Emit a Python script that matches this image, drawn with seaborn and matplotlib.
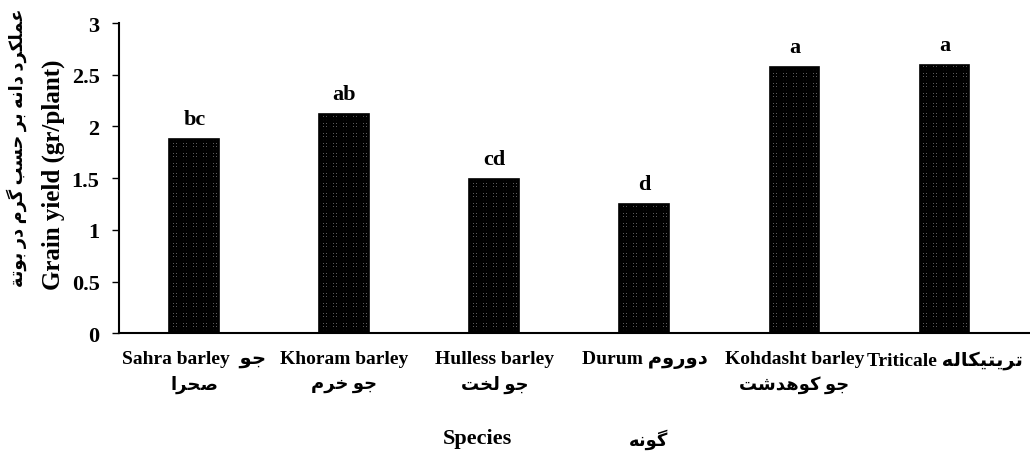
import matplotlib
matplotlib.use("Agg")
import matplotlib.pyplot as plt
import seaborn as sns
import pandas as pd

# ---------------- data ----------------
species_en = ["Sahra barley", "Khoram barley", "Hulless barley", "Durum",
              "Kohdasht barley", "Triticale"]
species_fa = ["جو صحرا", "جو خرم", "جو لخت", "دوروم", "جو کوهدشت", "تریتیکاله"]
grain_yield = [1.88, 2.12, 1.49, 1.25, 2.57, 2.59]
letters = ["bc", "ab", "cd", "d", "a", "a"]
y_ticks = [0, 0.5, 1, 1.5, 2, 2.5, 3]
y_tick_labels = ["0", "0.5", "1", "1.5", "2", "2.5", "3"]
ylabel_en = "Grain yield (gr/plant)"
ylabel_fa = "عملکرد دانه بر حسب گرم در بوتة"
xlabel_en = "Species"
xlabel_fa = "گونه"

# ------------- minimal Persian shaping (presentation forms, visual order) -------------
DUAL = {
    'ب': 'ﺏﺐﺑﺒ', 'ت': 'ﺕﺖﺗﺘ', 'ج': 'ﺝﺞﺟﺠ', 'ح': 'ﺡﺢﺣﺤ', 'خ': 'ﺥﺦﺧﺨ',
    'س': 'ﺱﺲﺳﺴ', 'ش': 'ﺵﺶﺷﺸ', 'ص': 'ﺹﺺﺻﺼ', 'ع': 'ﻉﻊﻋﻌ', 'ل': 'ﻝﻞﻟﻠ',
    'م': 'ﻡﻢﻣﻤ', 'ن': 'ﻥﻦﻧﻨ', 'ه': 'ﻩﻪﻫﻬ',
    'ک': '\uFB8E\uFB8F\uFB90\uFB91', 'گ': '\uFB92\uFB93\uFB94\uFB95',
    'ی': '\uFBFC\uFBFD\uFBFE\uFBFF',
}
RIGHT = {'ا': 'ﺍﺎ', 'د': 'ﺩﺪ', 'ر': 'ﺭﺮ', 'و': 'ﻭﻮ', 'ة': 'ﺓﺔ'}


def rtl(text):
    out = []
    for i, ch in enumerate(text):
        if ch not in DUAL and ch not in RIGHT:
            out.append(ch)
            continue
        prev = text[i - 1] if i > 0 else ""
        nxt = text[i + 1] if i + 1 < len(text) else ""
        lp = prev in DUAL
        ln = ch in DUAL and (nxt in DUAL or nxt in RIGHT)
        forms = DUAL.get(ch) or RIGHT.get(ch)
        if lp and ln:
            out.append(forms[3])
        elif lp:
            out.append(forms[1])
        elif ln:
            out.append(forms[2])
        else:
            out.append(forms[0])
    return "".join(out)[::-1]


FAM = ["Liberation Serif", "DejaVu Sans"]

# first lines of the tick labels (visual layout of the mixed-script labels)
fa_words = [s.split(" ") for s in species_fa]
line1 = [
    species_en[0] + "  " + rtl(fa_words[0][0]),
    species_en[1],
    species_en[2],
    species_en[3] + " " + rtl(species_fa[3]),
    species_en[4],
    species_en[5] + " " + rtl(species_fa[5]),
]
line2 = [rtl(fa_words[0][1]), rtl(species_fa[1]), rtl(species_fa[2]), "",
         rtl(species_fa[4]), ""]

df = pd.DataFrame({"species": species_en, "yield": grain_yield})

sns.set_theme(style="white")
plt.rcParams["font.family"] = FAM
plt.rcParams["hatch.linewidth"] = 1.9
for k in ["text.color", "axes.labelcolor", "xtick.color", "ytick.color"]:
    plt.rcParams[k] = "black"

fig = plt.figure(figsize=(10.3, 4.52), dpi=100)
ax = fig.add_axes([0.1155, 0.2604, 0.8845, 0.6865])

sns.barplot(data=df, x="species", y="yield", order=species_en, color="white",
            width=0.333, edgecolor="black", linewidth=1.2, ax=ax, errorbar=None)
for p in ax.patches:
    p.set_hatch("+++++")
    p.set_facecolor("white")
    p.set_edgecolor("black")

for i, (v, lab) in enumerate(zip(grain_yield, letters)):
    ax.annotate(lab, (i, v), xytext=(0, 11), textcoords="offset points",
                ha="center", va="baseline", fontsize=16, fontweight="bold",
                family=FAM)

ax.set_ylim(0, 3)
ax.set_xlim(-0.503, 5.57)
ax.set_yticks(y_ticks)
ax.set_yticklabels(y_tick_labels, fontsize=16, fontweight="bold", family=FAM)
ax.set_xticks(range(len(species_en)))
ax.set_xticklabels(line1, fontsize=14, fontweight="bold", family=FAM)
ax.tick_params(axis="x", length=0, pad=12)
ax.tick_params(axis="y", left=True, length=5, width=1, pad=9, color="black")

for i, t in enumerate(line2):
    if t:
        ax.text(i, -0.135, t, transform=ax.get_xaxis_transform(), ha="center",
                va="top", fontsize=13, fontweight="bold", family=FAM)

for s in ["top", "right"]:
    ax.spines[s].set_visible(False)
for s in ["left", "bottom"]:
    ax.spines[s].set_color("black")
    ax.spines[s].set_linewidth(1.5)

ax.set_ylabel(ylabel_en, fontsize=18, fontweight="bold", family=FAM)
ax.yaxis.set_label_coords(-0.0593, 0.513)
fig.text(16.5 / 1030, 1 - 148 / 452, rtl(ylabel_fa), rotation=90, ha="center",
         va="center", fontsize=12.8, fontweight="bold", family=FAM)

ax.set_xlabel(xlabel_en, fontsize=16, fontweight="bold", family=FAM)
ax.xaxis.set_label_coords((477 - 119) / 911, -0.305)
ax.text((649 - 119) / 911, -0.305, rtl(xlabel_fa), transform=ax.transAxes,
        ha="center", va="top", fontsize=13, fontweight="bold", family=FAM)

fig.savefig("out.png", dpi=100)
